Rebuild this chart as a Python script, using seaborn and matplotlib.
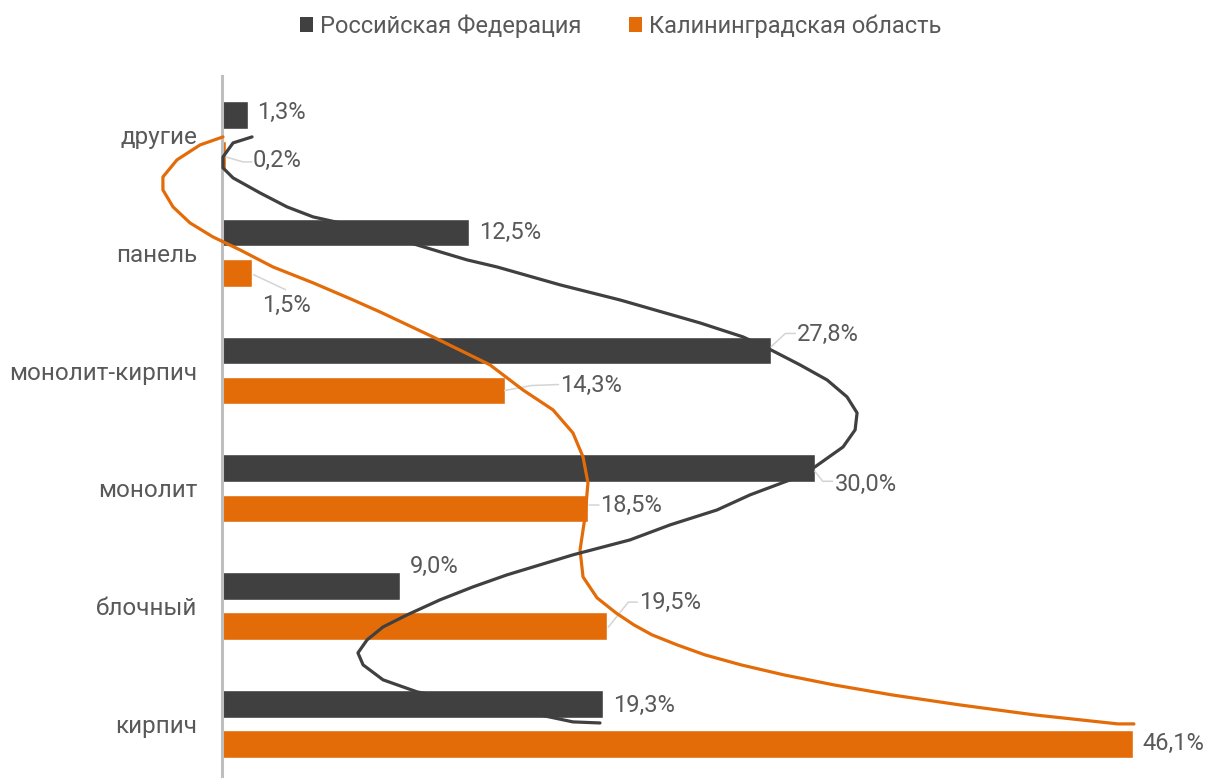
import numpy as np
import pandas as pd
import matplotlib
matplotlib.use("Agg")
import matplotlib.pyplot as plt
import seaborn as sns
from matplotlib.patches import Patch

# ---------------- data ----------------
categories = ["другие", "панель", "монолит-кирпич", "монолит", "блочный", "кирпич"]
series_names = ["Российская Федерация", "Калининградская область"]
rf_values = [1.3, 12.5, 27.8, 30.0, 9.0, 19.3]
kal_values = [0.2, 1.5, 14.3, 18.5, 19.5, 46.1]

# decorative hand-drawn curves (value %, category position)
rf_curve_x = [1.52, 0.56, 0.05, 0.05, 0.56, 1.92, 3.29, 4.61, 5.97, 9.01, 12.40, 13.92,
              17.11, 20.14, 24.19, 26.37, 27.78, 29.25, 30.62, 31.63, 32.14, 32.04, 31.43,
              30.01, 28.74, 26.72, 25.05, 22.67, 20.65, 17.76, 16.09, 14.42, 12.70, 11.03,
              9.36, 8.15, 7.34, 6.88, 7.14, 8.15, 9.87, 12.70, 16.09, 17.76, 19.13]
rf_curve_y = [0.017, 0.068, 0.187, 0.280, 0.365, 0.492, 0.611, 0.696, 0.747, 0.891, 1.061,
              1.121, 1.273, 1.401, 1.596, 1.715, 1.825, 1.952, 2.080, 2.224, 2.360, 2.504,
              2.649, 2.818, 2.929, 3.056, 3.184, 3.311, 3.438, 3.565, 3.650, 3.735, 3.837,
              3.947, 4.075, 4.177, 4.287, 4.397, 4.499, 4.626, 4.728, 4.822, 4.924, 4.983, 4.992]
kal_curve_x = [0.05, -1.11, -2.28, -2.99, -2.99, -2.48, -1.62, -0.46, 0.91, 2.58, 4.61, 6.63,
               8.00, 10.68, 13.56, 15.23, 16.75, 17.76, 18.27, 18.52, 18.37, 18.12, 18.27,
               18.98, 19.94, 20.85, 21.76, 23.03, 24.44, 26.27, 28.44, 30.97, 33.91, 37.35,
               41.14, 45.34, 46.15]
kal_curve_y = [0.017, 0.085, 0.212, 0.357, 0.467, 0.611, 0.747, 0.866, 0.976, 1.121, 1.256,
               1.401, 1.503, 1.715, 1.952, 2.165, 2.334, 2.530, 2.733, 2.954, 3.243, 3.523,
               3.752, 3.930, 4.058, 4.160, 4.244, 4.329, 4.414, 4.499, 4.584, 4.669, 4.754,
               4.839, 4.924, 5.000, 5.000]

# ---------------- style ----------------
DARK = "#404040"
ORANGE = "#E36C09"
TEXT = "#595959"
LEADER = "#d4d4d4"
FS = 17

sns.set_theme(style="white")
plt.rcParams["font.family"] = ["Roboto", "DejaVu Sans"]

W, H = 1208, 778
fig = plt.figure(figsize=(W / 100, H / 100), dpi=100)
x0px = 222
px_per_pct = 19.76
px_per_cat = 117.8
xmax = 46.5
ax = fig.add_axes([x0px / W, 0, xmax * px_per_pct / W, (H - 76) / H])

df = pd.DataFrame({
    "category": categories * 2,
    "value": rf_values + kal_values,
    "series": [series_names[0]] * len(categories) + [series_names[1]] * len(categories),
})

sns.barplot(data=df, y="category", x="value", hue="series", orient="h",
            palette=[DARK, ORANGE], width=0.68, gap=0.31, errorbar=None,
            saturation=1, legend=False, ax=ax, zorder=2)

ax.set_xlim(0, xmax)
ax.set_ylim(-0.5 + (H - 76) / px_per_cat, -0.5)
ax.set_xticks([])
ax.set_xlabel("")
ax.set_ylabel("")
for s in ["top", "right", "bottom"]:
    ax.spines[s].set_visible(False)
ax.spines["left"].set_color("#bfbfbf")
ax.spines["left"].set_linewidth(2.2)
ax.spines["left"].set_zorder(3)
ax.tick_params(axis="y", length=0, pad=18, labelsize=17.5, labelcolor=TEXT)
ax.patch.set_alpha(0)

# ---------------- value labels ----------------
# (text dx, text dy, leader polyline offsets) in pixels from the bar end, y downwards
rf_label_style = [
    (9, -2, None),
    (10, 0, None),
    (26, -16, [(0, -4), (14, -17), (24, -17)]),
    (20, 16, [(0, 3), (8, 13), (18, 13)]),
    (10, -20, None),
    (10, 2, None),
]
kal_label_style = [
    (27, 6, [(0, 2), (17, 7), (26, 7)]),
    (10, 33, [(2, 2), (34, 17)]),
    (55, -5, [(0, 0), (27, -5), (54, -6)]),
    (13, -3, [(1, -3), (11, -3)]),
    (32, -24, [(1, 1), (21, -24), (30, -24)]),
    (10, 0, None),
]

for container, values, styles in zip(ax.containers, [rf_values, kal_values],
                                     [rf_label_style, kal_label_style]):
    for bar, v, (dx, dy, leader) in zip(container, values, styles):
        bx = bar.get_width()
        by = bar.get_y() + bar.get_height() / 2
        label = f"{v:.1f}%".replace(".", ",")
        ax.annotate(label, xy=(bx, by), xytext=(dx, -dy), textcoords="offset pixels",
                    ha="left", va="center", fontsize=FS, color=TEXT,
                    annotation_clip=False, zorder=6)
        if leader:
            lx = [bx + ox / px_per_pct for ox, oy in leader]
            ly = [by + oy / px_per_cat for ox, oy in leader]
            ax.plot(lx, ly, color=LEADER, lw=1.1, clip_on=False, zorder=4)

# ---------------- decorative curves ----------------
ax.plot(kal_curve_x, kal_curve_y, color=ORANGE, lw=2.3, clip_on=False, zorder=5,
        solid_joinstyle="round", solid_capstyle="round")
ax.plot(rf_curve_x, rf_curve_y, color=DARK, lw=2.3, clip_on=False, zorder=5,
        solid_joinstyle="round", solid_capstyle="round")

# ---------------- legend ----------------
handles = [Patch(facecolor=DARK, edgecolor="none"), Patch(facecolor=ORANGE, edgecolor="none")]
fig.legend(handles=handles, labels=series_names, loc="center",
           bbox_to_anchor=(0.514, 1 - 26 / H), ncol=2, frameon=False, fontsize=FS,
           handlelength=0.55, handleheight=0.55, handletextpad=0.3, columnspacing=2.0,
           labelcolor=TEXT)

fig.savefig("out.png", dpi=100)
